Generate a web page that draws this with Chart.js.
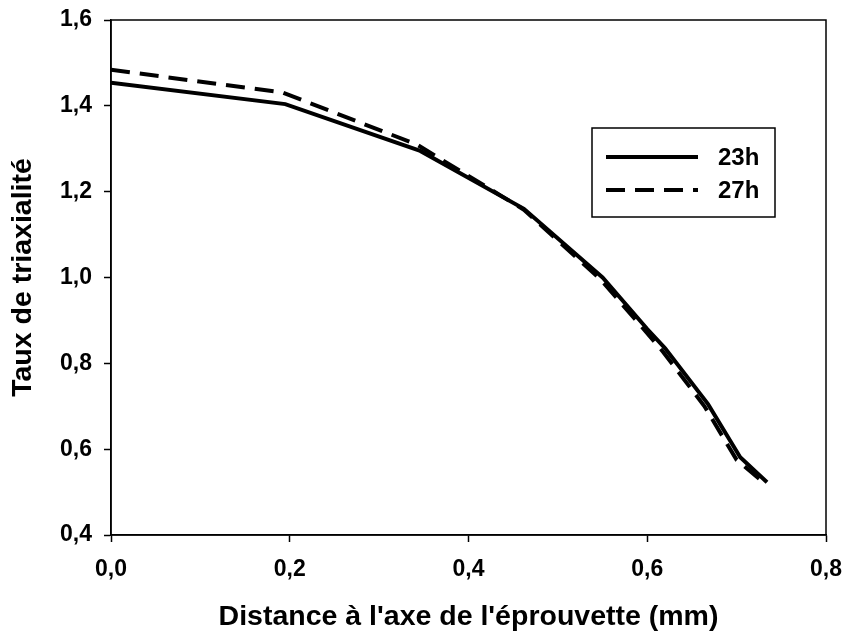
<!DOCTYPE html>
<html>
<head>
<meta charset="utf-8">
<script src="https://cdn.jsdelivr.net/npm/chart.js@4/dist/chart.umd.min.js"></script>
<style>
  html, body { margin: 0; padding: 0; background: #ffffff; }
  #wrap { width: 847px; height: 635px; }
</style>
</head>
<body>
<div id="wrap"><canvas id="c" width="847" height="635"></canvas></div>
<script>
// ---- data ----
const xTitle = "Distance à l'axe de l'éprouvette (mm)";
const yTitle = "Taux de triaxialité";
const seriesLabels = ["23h", "27h"];
const x23 = [0.0, 0.195, 0.346, 0.462, 0.550, 0.600, 0.620, 0.668, 0.704, 0.734];
const y23 = [1.454, 1.404, 1.295, 1.160, 1.000, 0.880, 0.835, 0.705, 0.581, 0.523];
const x27 = [0.0, 0.192, 0.342, 0.462, 0.548, 0.598, 0.618, 0.664, 0.700, 0.732];
const y27 = [1.484, 1.431, 1.310, 1.158, 0.995, 0.875, 0.826, 0.700, 0.575, 0.519];
const xTickValues = [0.0, 0.2, 0.4, 0.6, 0.8];
const yTickValues = [0.4, 0.6, 0.8, 1.0, 1.2, 1.4, 1.6];

const FONT = "'Liberation Sans', Arial, sans-serif";
const fmt = v => Number(v).toFixed(1).replace('.', ',');
const pts = (xs, ys) => xs.map((x, i) => ({ x: x, y: ys[i] }));

const framePlugin = {
  id: 'frame',
  afterDatasetsDraw(chart) {
    const { ctx, chartArea: a } = chart;
    ctx.save();
    ctx.strokeStyle = '#000';
    ctx.lineWidth = 1.5;
    ctx.strokeRect(a.left, a.top, a.right - a.left, a.bottom - a.top);
    ctx.restore();
  }
};

const legendPlugin = {
  id: 'boxLegend',
  afterDraw(chart) {
    const { ctx } = chart;
    const bx = 592, by = 128, bw = 183, bh = 89;
    ctx.save();
    ctx.fillStyle = '#fff';
    ctx.fillRect(bx, by, bw, bh);
    ctx.strokeStyle = '#000';
    ctx.lineWidth = 1.5;
    ctx.strokeRect(bx, by, bw, bh);
    const rows = [157, 190];
    chart.data.datasets.forEach((ds, i) => {
      const y = rows[i];
      ctx.beginPath();
      ctx.setLineDash(ds.borderDash || []);
      ctx.lineWidth = ds.borderWidth;
      ctx.strokeStyle = ds.borderColor;
      ctx.moveTo(606, y);
      ctx.lineTo(698, y);
      ctx.stroke();
      ctx.setLineDash([]);
      ctx.fillStyle = '#000';
      ctx.font = "bold 24px " + FONT;
      ctx.textBaseline = 'middle';
      ctx.textAlign = 'left';
      ctx.fillText(ds.label, 718, y + 1);
    });
    ctx.restore();
  }
};

new Chart(document.getElementById('c'), {
  type: 'line',
  data: {
    datasets: [
      {
        label: seriesLabels[0],
        data: pts(x23, y23),
        borderColor: '#000',
        borderWidth: 4,
        pointRadius: 0,
        tension: 0,
        fill: false
      },
      {
        label: seriesLabels[1],
        data: pts(x27, y27),
        borderColor: '#000',
        borderWidth: 4,
        borderDash: [19, 10],
        pointRadius: 0,
        tension: 0,
        fill: false
      }
    ]
  },
  options: {
    responsive: false,
    animation: false,
    devicePixelRatio: 1,
    layout: { padding: { left: 0, top: 20, right: 21, bottom: 0 } },
    plugins: {
      legend: { display: false },
      tooltip: { enabled: false }
    },
    scales: {
      x: {
        type: 'linear',
        min: 0,
        max: 0.8,
        afterBuildTicks: s => { s.ticks = xTickValues.map(v => ({ value: v })); },
        afterFit: s => { s.height = 100; s.paddingLeft = 0; s.paddingRight = 0; },
        border: { display: true, color: '#000', width: 1.5 },
        grid: { drawOnChartArea: false, drawTicks: true, tickLength: 7, color: '#000', tickWidth: 1.5 },
        ticks: {
          color: '#000',
          padding: 14,
          maxRotation: 0,
          font: { family: FONT, size: 23, weight: 'bold' },
          callback: v => fmt(v)
        },
        title: {
          display: true,
          text: xTitle,
          color: '#000',
          font: { family: FONT, size: 28.5, weight: 'bold', lineHeight: 1 },
          padding: { top: 0, bottom: 4 }
        }
      },
      y: {
        type: 'linear',
        min: 0.4,
        max: 1.6,
        afterBuildTicks: s => { s.ticks = yTickValues.map(v => ({ value: v })); },
        afterFit: s => { s.width = 111; s.paddingTop = 0; s.paddingBottom = 0; },
        border: { display: true, color: '#000', width: 1.5 },
        grid: { drawOnChartArea: false, drawTicks: true, tickLength: 7, color: '#000', tickWidth: 1.5 },
        ticks: {
          color: '#000',
          padding: 12,
          font: { family: FONT, size: 23, weight: 'bold' },
          callback: v => fmt(v)
        },
        title: {
          display: true,
          text: yTitle,
          color: '#000',
          font: { family: FONT, size: 28.5, weight: 'bold', lineHeight: 1 },
          padding: { top: 9, bottom: 0 }
        }
      }
    }
  },
  plugins: [framePlugin, legendPlugin]
});
</script>
</body>
</html>
